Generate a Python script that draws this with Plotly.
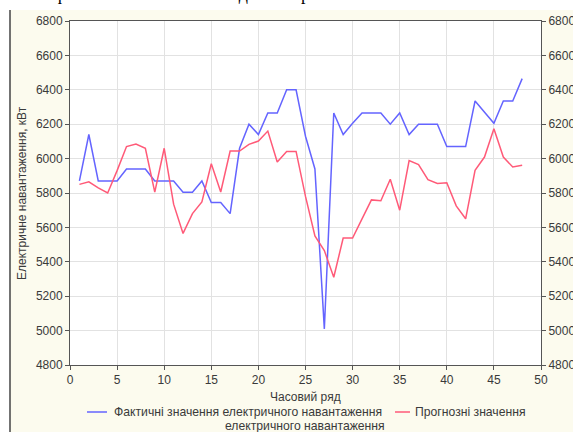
import plotly.graph_objects as go

# ---- data ----
time_index = list(range(1, 49))
actual_load = [5870, 6140, 5870, 5870, 5870, 5940, 5940, 5940, 5870, 5870,
               5870, 5805, 5805, 5870, 5745, 5745, 5680, 6060, 6200, 6140,
               6265, 6265, 6400, 6400, 6130, 5940, 5010, 6265, 6140, 6205,
               6265, 6265, 6265, 6200, 6265, 6140, 6200, 6200, 6200, 6070,
               6070, 6070, 6335, 6270, 6205, 6335, 6335, 6465]
forecast_load = [5850, 5865, 5830, 5800, 5930, 6070, 6085, 6060, 5805, 6060,
                 5735, 5565, 5680, 5748, 5970, 5806, 6044, 6044, 6083, 6102,
                 6160, 5980, 6042, 6042, 5780, 5550, 5465, 5310, 5538, 5538,
                 5650, 5760, 5755, 5880, 5700, 5988, 5965, 5878, 5855, 5860,
                 5725, 5650, 5932, 6009, 6174, 6009, 5951, 5961]
x_ticks = [0, 5, 10, 15, 20, 25, 30, 35, 40, 45, 50]
y_ticks = [4800, 5000, 5200, 5400, 5600, 5800, 6000, 6200, 6400, 6600, 6800]

actual_name = "Фактичні значення електричного навантаження"
actual_name2 = "електричного навантаження"
forecast_name = "Прогнозні значення"
x_title = "Часовий ряд"
y_title = "Електричне навантаження, кВт"
top_text = "фактичних значень наведено на рис.5:"

# ---- layout geometry (pixels) ----
W, H = 573, 432
L, R, T, B = 70, 32, 21, 67
PW, PH = W - L - R, H - T - B


def px(xp):
    return (xp - L) / PW


def py(yp):
    return (H - B - yp) / PH


BLUE = "#6464ff"
RED = "#ff5a78"
FONT = "Liberation Sans, Arial, sans-serif"
TXT = "#3a3a3a"

fig = go.Figure()
fig.add_trace(go.Scatter(x=time_index, y=actual_load, mode="lines",
                         line=dict(color=BLUE, width=1.5), name=actual_name,
                         yaxis="y"))
fig.add_trace(go.Scatter(x=time_index, y=forecast_load, mode="lines",
                         line=dict(color=RED, width=1.5), name=forecast_name,
                         yaxis="y2"))

axis_common = dict(
    showline=True, linecolor="#555555", linewidth=1,
    ticks="outside", ticklen=4, tickcolor="#555555",
    tickfont=dict(family=FONT, size=12, color=TXT),
    showgrid=True, gridcolor="#e2e2e2", gridwidth=1, zeroline=False,
)

fig.update_layout(
    width=W, height=H,
    margin=dict(l=L, r=R, t=T, b=B, autoexpand=False),
    paper_bgcolor="white", plot_bgcolor="rgba(0,0,0,0)",
    showlegend=False,
    xaxis=dict(range=[0, 50], tickvals=x_ticks, mirror=True, **axis_common),
    yaxis=dict(range=[4800, 6800], tickvals=y_ticks, mirror=True, **axis_common),
    yaxis2=dict(range=[4800, 6800], tickvals=y_ticks, overlaying="y", side="right",
                **{k: v for k, v in axis_common.items() if k != "showgrid"},
                showgrid=False),
    shapes=[
        dict(type="rect", xref="paper", yref="paper", x0=px(10), x1=px(600),
             y0=py(460), y1=py(10), fillcolor="#fcfbee", line=dict(width=0),
             layer="below"),
        dict(type="rect", xref="paper", yref="paper", x0=0, x1=1, y0=0, y1=1,
             fillcolor="white", line=dict(width=0), layer="below"),
        dict(type="line", xref="paper", yref="paper", x0=px(10), x1=px(10),
             y0=py(460), y1=py(10), line=dict(color="#444444", width=1.5)),
        dict(type="line", xref="paper", yref="paper", x0=px(87), x1=px(107),
             y0=py(412), y1=py(412), line=dict(color=BLUE, width=1.5)),
        dict(type="line", xref="paper", yref="paper", x0=px(395), x1=px(410),
             y0=py(412), y1=py(412), line=dict(color=RED, width=1.5)),
    ],
    annotations=[
        dict(text=top_text, xref="paper", yref="paper", x=px(348), y=py(6),
             xanchor="right", yanchor="bottom", showarrow=False,
             font=dict(family="Liberation Serif, Times New Roman, serif", size=18,
                       color="black")),
        dict(text=y_title, xref="paper", yref="paper", x=px(22), y=0.5,
             xanchor="center", yanchor="middle", textangle=-90, showarrow=False,
             font=dict(family=FONT, size=12, color=TXT)),
        dict(text=x_title, xref="paper", yref="paper", x=0.5, y=py(397),
             xanchor="center", yanchor="middle", showarrow=False,
             font=dict(family=FONT, size=12, color=TXT)),
        dict(text=actual_name, xref="paper", yref="paper", x=px(112), y=py(412),
             xanchor="left", yanchor="middle", showarrow=False,
             font=dict(family=FONT, size=12.2, color=TXT)),
        dict(text=actual_name2, xref="paper", yref="paper", x=px(305), y=py(426),
             xanchor="center", yanchor="middle", showarrow=False,
             font=dict(family=FONT, size=12.2, color=TXT)),
        dict(text=forecast_name, xref="paper", yref="paper", x=px(413), y=py(412),
             xanchor="left", yanchor="middle", showarrow=False,
             font=dict(family=FONT, size=12.2, color=TXT)),
    ],
)

fig.write_html("out.html")
